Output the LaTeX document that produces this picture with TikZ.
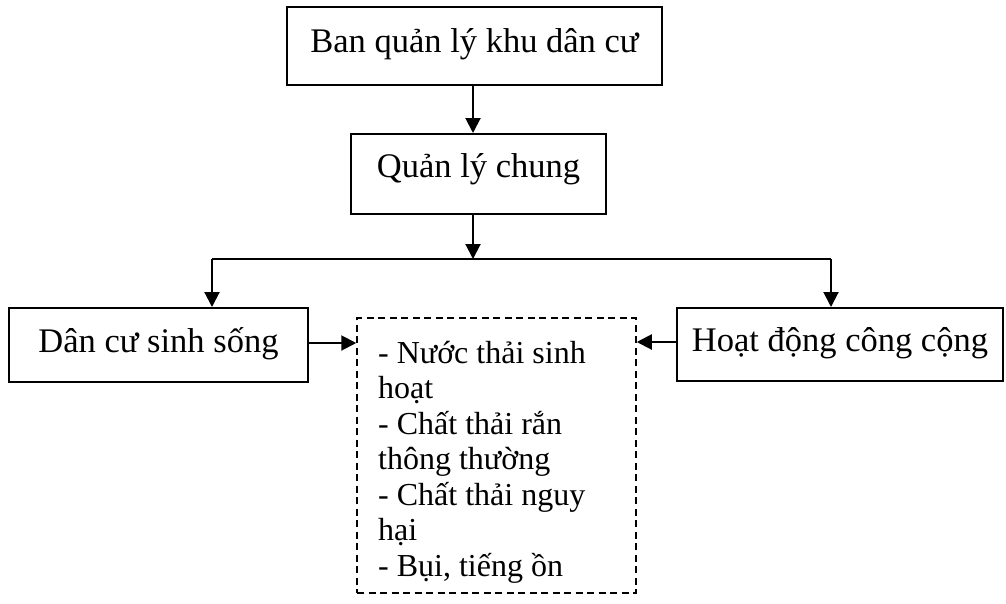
\documentclass[tikz,border=0pt]{standalone}
\usepackage{fontspec}
\setmainfont{Liberation Serif}
\usetikzlibrary{arrows.meta}
\begin{document}
\begin{tikzpicture}[x=1pt,y=-1pt,
  box/.style={draw,line width=2pt,inner sep=0pt,font=\fontsize{34.5}{38}\selectfont},
  arr/.style={line width=2pt,-{Triangle[width=15pt,length=15pt]}},
  ln/.style={line width=2pt},
  wbox/.style={draw,line width=1.5pt,dash pattern=on 7pt off 4.5pt}
]
\useasboundingbox (0,0) rectangle (1006,603);
\node[box,minimum width=375pt,minimum height=78pt,text height=23pt,text depth=10pt] (top) at (474.5,46) {Ban quản lý khu dân cư};
\node[box,minimum width=255pt,minimum height=80pt,text height=23pt,text depth=16pt] (mid) at (478.5,174) {Quản lý chung};
\node[box,minimum width=299pt,minimum height=74pt,text height=23pt,text depth=9pt] (left) at (158.5,345) {Dân cư sinh sống};
\node[box,minimum width=326pt,minimum height=73pt,text height=23pt,text depth=9pt] (right) at (840,344.5) {Hoạt động công cộng};
\node[wbox,minimum width=279pt,minimum height=275pt,inner sep=0pt] (w) at (496.5,455.5) {};
\node[anchor=north west,inner sep=0pt,align=left,font=\fontsize{32}{35.5}\selectfont] (wt) at (378,341) {- Nước thải sinh\\hoạt\\- Chất thải rắn\\thông thường\\- Chất thải nguy\\hại\\- Bụi, tiếng ồn};
\coordinate (bm) at (473,259);
\coordinate (bl) at (212,259);
\coordinate (br) at (831,259);
\draw[arr] (top.south -| bm) -- (mid.north -| bm);
\draw[arr] (mid.south -| bm) -- (bm);
\draw[ln] (bl) -- (br);
\draw[arr] (bl) -- (bl |- left.north);
\draw[arr] (br) -- (br |- right.north);
\draw[arr] (left.east |- 0,343) -- (w.west |- 0,343);
\draw[arr] (right.west |- 0,342) -- (w.east |- 0,342);
\end{tikzpicture}
\end{document}
